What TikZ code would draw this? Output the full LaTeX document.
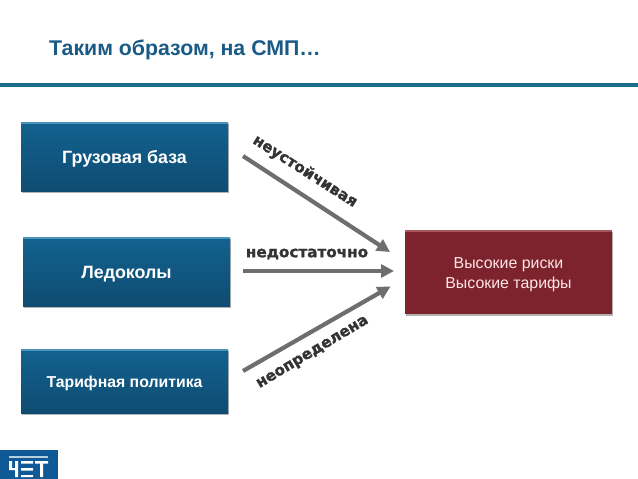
\documentclass[tikz,border=0pt]{standalone}
\usepackage{fontspec}
\setmainfont{Liberation Sans}
\newfontfamily\widefont[BoldFeatures={FakeBold=1.5}]{DejaVu Sans}
\usetikzlibrary{shadows,arrows.meta}
\definecolor{titleblue}{HTML}{1A5A86}
\definecolor{rulecol}{HTML}{1F6B8C}
\definecolor{boxtop}{HTML}{12628F}
\definecolor{boxbot}{HTML}{0F4C72}
\definecolor{boxhi}{HTML}{4A93BE}
\definecolor{redbox}{HTML}{7D232D}
\definecolor{redhi}{HTML}{A8565E}
\definecolor{arrowgray}{HTML}{6E6E6E}
\definecolor{labelgray}{HTML}{333333}
\definecolor{logoblue}{HTML}{0F5A96}
\tikzset{
  x=1pt,y=-1pt,
  shadowed/.style={drop shadow={shadow xshift=0.8pt,shadow yshift=-1.5pt,opacity=0.3,fill=black}},
  bluebox/.style={rectangle,minimum width=207pt,inner sep=0pt,top color=boxtop,bottom color=boxbot,draw=none,shadowed,
     text=white,text height=15pt,text depth=2pt,font=\fontsize{17.8}{20}\selectfont\bfseries},
  maroonbox/.style={rectangle,minimum width=207pt,minimum height=84pt,inner sep=0pt,fill=redbox,draw=none,shadowed,
     text=white!90!red,align=center,font=\fontsize{15.9}{19.5}\selectfont},
  flow/.style={draw=arrowgray,line width=4.2pt,-{Triangle[length=13pt,width=13pt]}},
  flowlabel/.style={inner sep=0pt,text=labelgray,font=\fontsize{15.2}{17}\selectfont\widefont\bfseries},
}
\begin{document}
\begin{tikzpicture}
\useasboundingbox (0,0) rectangle (638,479);
\fill[white] (0,0) rectangle (638,479);
\node[anchor=base west,inner sep=0pt,text=titleblue,font=\fontsize{21.3}{24}\selectfont\bfseries] (title) at (49,55) {Таким образом, на СМП…};
\fill[rulecol] (0,83) rectangle (638,87);

\node[bluebox,minimum height=69pt] (cargo) at (124.5,156.5) {Грузовая база};
\node[bluebox,minimum height=69pt] (ice) at (126.5,271.5) {Ледоколы};
\node[bluebox,minimum height=64pt,font=\fontsize{15.8}{18}\selectfont\bfseries] (tariff) at (124.5,381) {Тарифная политика};
\fill[boxhi] (21,122) rectangle (228,124);
\fill[boxhi] (23,237) rectangle (230,239);
\fill[boxhi] (21,349) rectangle (228,351);

\node[maroonbox] (risk) at (508.5,272) {\rule{0pt}{16pt}Высокие риски\\Высокие тарифы};
\fill[redhi] (405,230) rectangle (612,232);

\coordinate (s1) at (243,156);
\coordinate (e1) at (390,252);
\coordinate (s2) at (243,271);
\coordinate (e2) at (394,271);
\coordinate (s3) at (243,371);
\coordinate (e3) at (390.5,286.5);
\draw[flow] (s1) -- (e1);
\draw[flow] (s2) -- (e2);
\draw[flow] (s3) -- (e3);

\node[flowlabel,rotate=-32.5] (l1) at (305,171.5) {неустойчивая};
\node[flowlabel] (l2) at (307,254) {недостаточно};
\node[flowlabel,rotate=31] (l3) at (313,353) {неопределена};

% logo
\fill[logoblue] (0,450) rectangle (58,479);
\fill[white!70!logoblue] (9,456) rectangle (48,458);
\fill[white] (9,461) rectangle (12,470) (15,461) rectangle (18,477) (9,468) rectangle (18,470);
\fill[white] (21,461) rectangle (33,463.5) (21,468) rectangle (33,470.5) (21,475) rectangle (33,477);
\fill[white] (35,461) rectangle (48,463.5) (40,461) rectangle (43,477);
\end{tikzpicture}
\end{document}
